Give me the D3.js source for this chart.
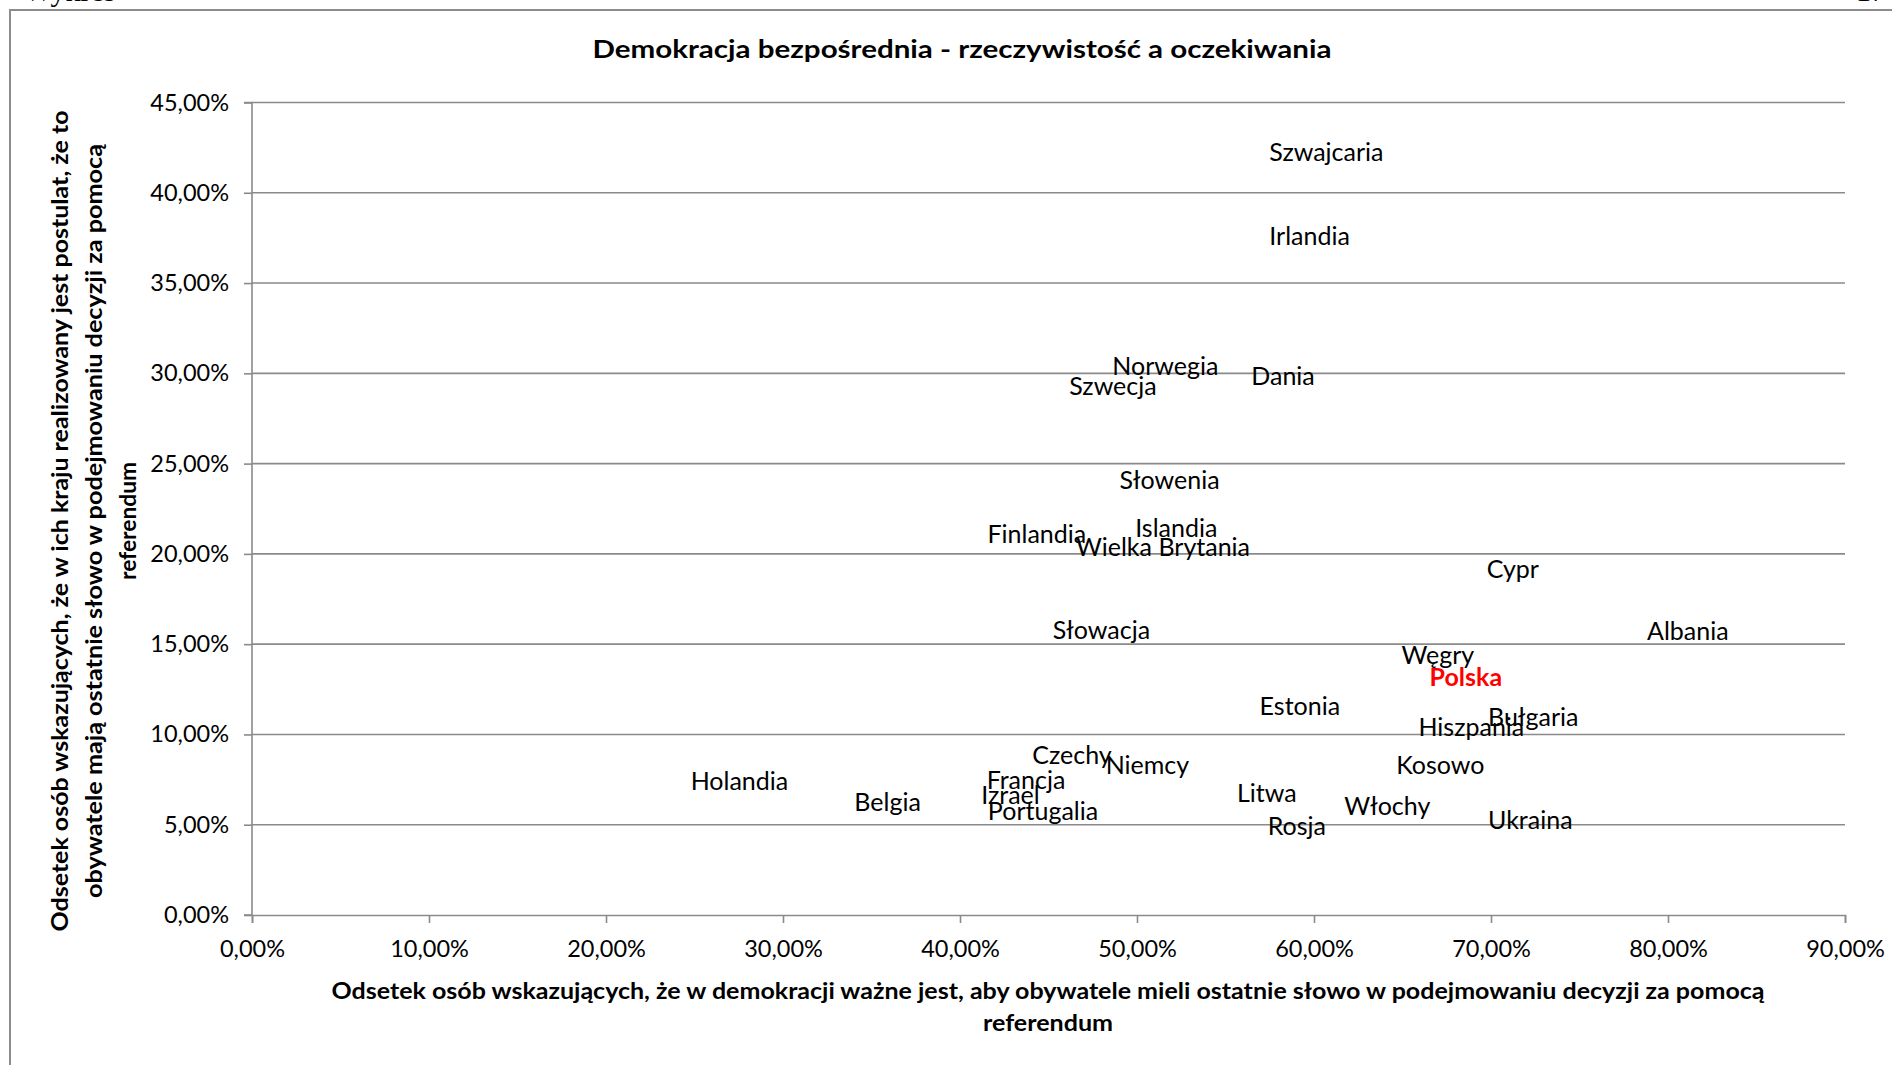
<!DOCTYPE html>
<html>
<head>
<meta charset="utf-8">
<script src="https://cdn.jsdelivr.net/npm/d3@7"></script>
<style>
  body { margin: 0; background: #fff; }
  svg { display: block; }
</style>
</head>
<body>
<svg id="chart" width="1892" height="1065"></svg>
<script>
// Countries with the share of respondents who consider referendum decisions important (x)
// and the share who say it is realised in their country (y)
const countries = [
  "Szwajcaria", "Irlandia", "Norwegia", "Szwecja", "Dania", "Słowenia", "Finlandia",
  "Islandia", "Wielka Brytania", "Cypr", "Słowacja", "Albania", "Węgry", "Polska",
  "Estonia", "Bułgaria", "Hiszpania", "Kosowo", "Czechy", "Niemcy", "Holandia",
  "Francja", "Izrael", "Belgia", "Portugalia", "Litwa", "Włochy", "Rosja", "Ukraina"
];
const oczekiwania = [
  0.6070, 0.5975, 0.5160, 0.4864, 0.5825, 0.5184, 0.4434,
  0.5222, 0.5147, 0.7123, 0.4799, 0.8112, 0.6700, 0.6858,
  0.5920, 0.7239, 0.6889, 0.6714, 0.4633, 0.5059, 0.2754,
  0.4373, 0.4285, 0.3591, 0.4469, 0.5733, 0.6414, 0.5903, 0.7222
];
const rzeczywistosc = [
  0.4226, 0.3758, 0.3037, 0.2931, 0.2984, 0.2410, 0.2110,
  0.2143, 0.2036, 0.1916, 0.1575, 0.1569, 0.1441, 0.1315,
  0.1155, 0.1096, 0.1040, 0.0828, 0.0887, 0.0831, 0.0741,
  0.0748, 0.0661, 0.0622, 0.0573, 0.0674, 0.0601, 0.0494, 0.0527
];
const xTickValues = [0, 0.1, 0.2, 0.3, 0.4, 0.5, 0.6, 0.7, 0.8, 0.9];
const yTickValues = [0, 0.05, 0.1, 0.15, 0.2, 0.25, 0.3, 0.35, 0.4, 0.45];
const highlighted = "Polska";

const chartTitle = "Demokracja bezpośrednia - rzeczywistość a oczekiwania";
const xTitleLines = [
  "Odsetek osób wskazujących, że w demokracji ważne jest, aby obywatele mieli ostatnie słowo w podejmowaniu decyzji za pomocą",
  "referendum"
];
const yTitleLines = [
  "Odsetek osób wskazujących, że w ich kraju realizowany jest postulat, że to",
  "obywatele mają ostatnie słowo w podejmowaniu decyzji za pomocą",
  "referendum"
];

const points = countries.map((name, i) => ({ name, x: oczekiwania[i], y: rzeczywistosc[i] }));

const svg = d3.select("#chart");
const W = 1892, H = 1065;
const plot = { left: 252, right: 1845, top: 102.5, bottom: 915 };
const gridColor = "#8a8a8a";
const font = "Lato, 'Open Sans', sans-serif";

const pl = d3.formatLocale({ decimal: ",", thousands: " ", grouping: [3], currency: ["", " zł"], percent: "%" });
const pct = pl.format(".2%");

const x = d3.scaleLinear().domain([0, 0.9]).range([plot.left, plot.right]);
const y = d3.scaleLinear().domain([0, 0.45]).range([plot.bottom, plot.top]);

svg.append("rect").attr("width", W).attr("height", H).attr("fill", "#fff");

// page header fragments above the chart frame
svg.append("text").attr("x", 24).attr("y", 1)
  .attr("font-family", "'Liberation Serif', serif").attr("font-size", 30).attr("fill", "#000")
  .text("Wykres");
svg.append("text").attr("x", 1856).attr("y", 1)
  .attr("font-family", "'Liberation Serif', serif").attr("font-size", 30).attr("fill", "#000")
  .text("17");

// chart frame (left and top edges visible)
svg.append("path")
  .attr("d", `M10,${H} L10,10 L${W},10`)
  .attr("fill", "none").attr("stroke", "#8c8c8c").attr("stroke-width", 2);

// title
svg.append("text")
  .attr("x", 962).attr("y", 58)
  .attr("text-anchor", "middle")
  .attr("font-family", font).attr("font-weight", 700).attr("font-size", 25)
  .attr("textLength", 739).attr("lengthAdjust", "spacingAndGlyphs")
  .attr("fill", "#000")
  .text(chartTitle);

// horizontal gridlines
svg.append("g")
  .selectAll("line")
  .data(yTickValues.filter(d => d > 0))
  .join("line")
  .attr("x1", plot.left).attr("x2", plot.right)
  .attr("y1", d => y(d)).attr("y2", d => y(d))
  .attr("stroke", gridColor).attr("stroke-width", 1.6);

// y axis
const yAxis = svg.append("g")
  .attr("transform", `translate(${plot.left},0)`)
  .call(d3.axisLeft(y).tickValues(yTickValues).tickFormat(pct).tickSize(8).tickPadding(15));
// x axis
const xAxis = svg.append("g")
  .attr("transform", `translate(0,${plot.bottom})`)
  .call(d3.axisBottom(x).tickValues(xTickValues).tickFormat(pct).tickSize(8).tickPadding(20));

[yAxis, xAxis].forEach(g => {
  g.select(".domain").attr("stroke", gridColor).attr("stroke-width", 1.6);
  g.selectAll(".tick line").attr("stroke", gridColor).attr("stroke-width", 1.6);
  g.selectAll(".tick text")
    .attr("font-family", font).attr("font-size", 23.5).attr("fill", "#000");
});
yAxis.select(".domain").attr("d", `M-8,${plot.top}H0V${plot.bottom}H-8`);
xAxis.selectAll(".tick text").attr("dy", "0.6em");

// axis titles
const xTitleY = [991, 1023];
const xTitleLen = [1433, 130];
svg.append("g").selectAll("text")
  .data(xTitleLines)
  .join("text")
  .attr("x", 1048).attr("y", (d, i) => xTitleY[i])
  .attr("dy", "0.35em")
  .attr("text-anchor", "middle")
  .attr("font-family", font).attr("font-weight", 700).attr("font-size", 22)
  .attr("textLength", (d, i) => xTitleLen[i]).attr("lengthAdjust", "spacingAndGlyphs")
  .attr("fill", "#000")
  .text(d => d);

const yTitleX = [60, 94, 128];
const yTitleLen = [821, 754, 118];
svg.append("g").selectAll("text")
  .data(yTitleLines)
  .join("text")
  .attr("transform", (d, i) => `translate(${yTitleX[i]},521) rotate(-90)`)
  .attr("dy", "0.35em")
  .attr("text-anchor", "middle")
  .attr("font-family", font).attr("font-weight", 700).attr("font-size", 22)
  .attr("textLength", (d, i) => yTitleLen[i]).attr("lengthAdjust", "spacingAndGlyphs")
  .attr("fill", "#000")
  .text(d => d);

// country labels, centred on their data points (markers hidden)
svg.append("g").selectAll("text")
  .data(points)
  .join("text")
  .attr("x", d => x(d.x))
  .attr("y", d => y(d.y))
  .attr("dy", "0.35em")
  .attr("text-anchor", "middle")
  .attr("font-family", font)
  .attr("font-size", 25)
  .attr("font-weight", d => d.name === highlighted ? 700 : 400)
  .attr("fill", d => d.name === highlighted ? "#ff0000" : "#000")
  .text(d => d.name);
</script>
</body>
</html>
